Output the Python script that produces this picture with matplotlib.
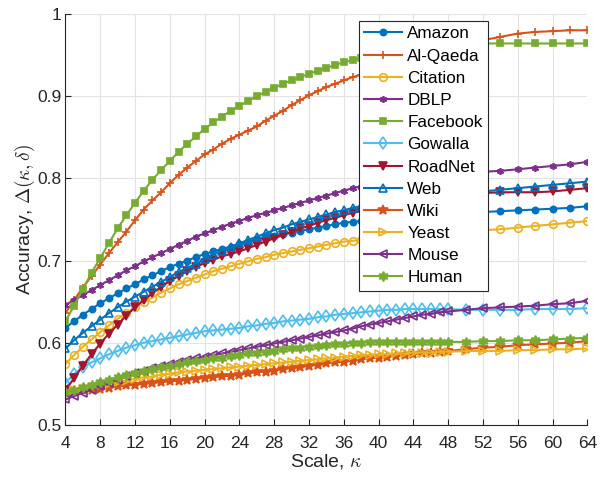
import numpy as np
import matplotlib
matplotlib.use('Agg')
import matplotlib.pyplot as plt

plt.rcParams['font.family'] = ['Liberation Sans', 'DejaVu Sans']
plt.rcParams['mathtext.fontset'] = 'cm'

# scale values: every 1 up to 48, then every 2
kappa = list(range(4, 49)) + list(range(50, 65, 2))

names = ['Amazon', 'Al-Qaeda', 'Citation', 'DBLP', 'Facebook', 'Gowalla',
         'RoadNet', 'Web', 'Wiki', 'Yeast', 'Mouse', 'Human']

amazon = [.618, .626, .634, .641, .648, .654, .660, .666, .671, .677,
          .682, .687, .692, .696, .700, .704, .708, .711, .714, .717,
          .720, .723, .726, .728, .730, .732, .734, .736, .738, .740,
          .742, .744, .746, .747, .748, .749, .750, .751, .752, .753,
          .754, .755, .756, .756, .757,
          .758, .759, .760, .761, .762, .763, .764, .766]
alqaeda = [.636, .652, .667, .681, .695, .709, .722, .735, .749, .762,
           .773, .783, .794, .804, .813, .821, .829, .835, .842, .848,
           .853, .858, .863, .870, .876, .882, .889, .895, .901, .906,
           .911, .915, .919, .923, .926, .929, .933, .936, .940, .943,
           .946, .949, .952, .955, .958,
           .963, .968, .972, .976, .978, .979, .980, .980]
citation = [.574, .585, .595, .604, .613, .621, .629, .636, .643, .649,
            .655, .661, .666, .671, .675, .679, .683, .687, .690, .693,
            .696, .699, .702, .704, .707, .709, .711, .713, .715, .717,
            .719, .721, .723, .724, .725, .726, .727, .728, .729, .730,
            .731, .732, .733, .734, .735,
            .736, .737, .738, .740, .742, .744, .746, .748]
dblp = [.646, .652, .658, .664, .670, .676, .682, .688, .693, .699,
        .704, .709, .714, .719, .724, .729, .733, .737, .741, .745,
        .748, .752, .755, .758, .761, .764, .767, .770, .773, .776,
        .779, .782, .785, .788, .790, .792, .794, .796, .798, .800,
        .801, .803, .804, .805, .806,
        .807, .808, .809, .811, .813, .815, .817, .820]
facebook = [.626, .645, .665, .685, .703, .721, .739, .755, .770, .785,
            .798, .810, .821, .832, .842, .851, .860, .868, .875, .882,
            .888, .894, .900, .905, .910, .915, .919, .923, .927, .931,
            .934, .938, .941, .944, .946, .948, .950, .952, .954, .956,
            .958, .959, .960, .961, .962,
            .963, .964, .964, .964, .964, .964, .964, .964]
gowalla = [.551, .562, .570, .576, .581, .586, .590, .594, .597, .600,
           .602, .604, .606, .608, .610, .612, .614, .615, .616, .617,
           .618, .620, .621, .623, .624, .626, .627, .628, .629, .631,
           .632, .634, .635, .636, .637, .638, .639, .640, .640, .641,
           .641, .641, .641, .641, .641,
           .640, .640, .640, .640, .641, .641, .641, .642]
roadnet = [.542, .557, .572, .586, .599, .611, .622, .633, .643, .652,
           .660, .668, .675, .681, .687, .692, .697, .701, .705, .708,
           .711, .715, .719, .723, .727, .731, .735, .739, .742, .746,
           .749, .752, .755, .758, .760, .762, .765, .767, .769, .771,
           .772, .774, .775, .777, .778,
           .780, .782, .783, .783, .783, .784, .786, .788]
web = [.593, .603, .612, .620, .628, .636, .643, .650, .656, .662,
       .668, .674, .680, .686, .691, .696, .702, .707, .712, .716,
       .721, .725, .729, .733, .737, .740, .744, .747, .750, .753,
       .756, .759, .761, .764, .766, .768, .770, .772, .774, .776,
       .777, .778, .779, .780, .781,
       .782, .784, .786, .788, .790, .792, .794, .796]
wiki = [.540, .541, .542, .543, .544, .545, .547, .548, .549, .550,
        .551, .552, .553, .554, .555, .556, .557, .558, .559, .560,
        .561, .563, .564, .565, .566, .568, .569, .570, .572, .573,
        .575, .576, .577, .578, .580, .581, .582, .583, .584, .585,
        .586, .587, .588, .589, .590,
        .592, .594, .595, .597, .598, .599, .600, .602]
yeast = [.540, .542, .544, .546, .548, .550, .552, .554, .556, .558,
         .559, .561, .562, .564, .565, .566, .567, .568, .569, .570,
         .571, .572, .573, .574, .575, .576, .577, .578, .579, .580,
         .581, .582, .583, .584, .585, .585, .586, .586, .587, .587,
         .588, .588, .588, .589, .589,
         .590, .590, .590, .591, .591, .592, .592, .593]
mouse = [.531, .535, .539, .543, .547, .551, .555, .559, .563, .566,
         .569, .572, .574, .577, .579, .581, .583, .585, .587, .589,
         .591, .593, .595, .597, .599, .601, .603, .605, .607, .609,
         .611, .613, .615, .617, .620, .622, .624, .626, .628, .630,
         .632, .634, .635, .637, .638,
         .640, .642, .643, .644, .645, .647, .648, .651]
human = [.540, .543, .546, .549, .552, .555, .558, .561, .563, .566,
         .568, .570, .572, .574, .576, .578, .579, .581, .582, .584,
         .585, .587, .588, .589, .590, .592, .593, .594, .595, .596,
         .597, .598, .599, .600, .600, .601, .601, .601, .601, .601,
         .601, .601, .601, .601, .601,
         .601, .602, .602, .603, .603, .604, .605, .606]

series = [amazon, alqaeda, citation, dblp, facebook, gowalla,
          roadnet, web, wiki, yeast, mouse, human]

# MATLAB-like styles: (colour, marker, filled, size)
styles = [('#0072BD', 'o', True, 4.5),
          ('#D95319', '+', True, 5.5),
          ('#EDB120', 'o', False, 5.5),
          ('#7E2F8E', (6, 2, 0), True, 5),
          ('#77AC30', 's', True, 4.8),
          ('#4DBEEE', 'd', False, 6),
          ('#A2142F', 'v', True, 6.3),
          ('#0072BD', '^', False, 6.3),
          ('#D95319', '*', True, 7.5),
          ('#EDB120', '>', False, 6.3),
          ('#7E2F8E', '<', False, 6.3),
          ('#77AC30', (6, 1, 0), True, 7)]

fig = plt.figure(figsize=(6, 4.78), dpi=100)
ax = fig.add_axes([0.109, 0.111, 0.870, 0.860])

for name, vals, (c, m, filled, ms) in zip(names, series, styles):
    ax.plot(kappa, vals, color=c, marker=m, ms=ms, lw=1.5, mew=1.2,
            mfc=c if filled else 'none', label=name)

ax.set_xlim(4, 64)
ax.set_ylim(0.5, 1)
ax.set_xticks(range(4, 65, 4))
ax.set_yticks([0.5, 0.6, 0.7, 0.8, 0.9, 1.0])
ax.set_yticklabels(['0.5', '0.6', '0.7', '0.8', '0.9', '1'])
ax.grid(True, color='#e3e3e3', lw=0.8)
ax.set_axisbelow(True)
for s in ['top', 'right']:
    ax.spines[s].set_visible(False)
for s in ['left', 'bottom']:
    ax.spines[s].set_color('#262626')
ax.tick_params(direction='in', length=4, colors='#262626', labelsize=12.5)
ax.tick_params(axis='x', pad=8)
ax.tick_params(axis='y', pad=3)

ax.set_xlabel(r'Scale, $\kappa$', fontsize=14, color='#262626', labelpad=1)
ax.set_ylabel(r'Accuracy, $\Delta(\kappa,\delta)$', fontsize=14, color='#262626',
              labelpad=0)

leg = ax.legend(loc='upper left', bbox_to_anchor=(359 / 600, 1 - 21 / 478),
                bbox_transform=fig.transFigure, borderaxespad=0,
                fontsize=12.3, handlelength=2.2, labelspacing=0.42,
                handletextpad=0.3, borderpad=0.32, fancybox=False,
                framealpha=1, edgecolor='#262626')
leg.get_frame().set_linewidth(0.8)

fig.savefig('out.png', dpi=100)
